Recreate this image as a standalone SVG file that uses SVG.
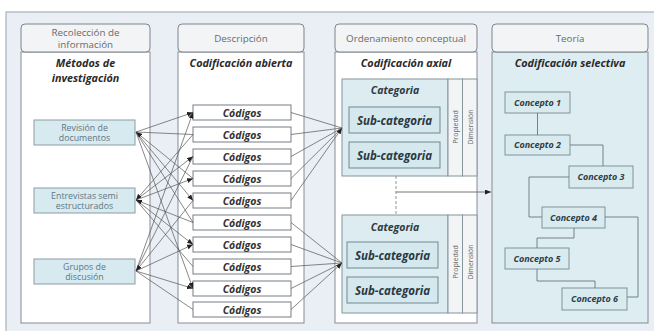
<svg xmlns="http://www.w3.org/2000/svg" width="654" height="331" viewBox="0 0 654 331">
<style>
.hdr{fill:#f3f4f6;stroke:#7d848c;stroke-width:1}
.hdrtxt{font-family:"Open Sans","Liberation Sans",sans-serif;font-size:9.8px;fill:#6a6a6a;text-anchor:middle}
.body{fill:#ffffff;stroke:#868c94;stroke-width:1}
.title{font-family:"Open Sans","Liberation Sans",sans-serif;font-size:10.8px;font-weight:700;font-style:italic;fill:#2a2a2a;text-anchor:middle}
.mbox{fill:#d6eaf0;stroke:#8e9ca6;stroke-width:1}
.mtxt{font-family:"Open Sans","Liberation Sans",sans-serif;font-size:8.8px;fill:#5e7785;text-anchor:middle}
.cbox{fill:#ffffff;stroke:#777d84;stroke-width:1}
.ctxt{font-family:"Open Sans","Liberation Sans",sans-serif;font-size:10.5px;font-weight:700;font-style:italic;fill:#333;text-anchor:middle}
.cat{fill:#dcecf0;stroke:#86949c;stroke-width:1}
.strip{fill:#f2f4f6;stroke:#86949c;stroke-width:1}
.cattxt{font-family:"Open Sans","Liberation Sans",sans-serif;font-size:10.5px;font-weight:700;font-style:italic;fill:#2d3a42;text-anchor:middle}
.sub{fill:#d4e8ee;stroke:#6f8892;stroke-width:1}
.subtxt{font-family:"Open Sans","Liberation Sans",sans-serif;font-size:11.5px;font-weight:700;font-style:italic;fill:#2a3840;text-anchor:middle}
.prop{font-family:"Open Sans","Liberation Sans",sans-serif;font-size:7px;fill:#6a6a6a;text-anchor:middle}
.con{fill:#d9ebef;stroke:#7f939c;stroke-width:1}
.contxt{font-family:"Open Sans","Liberation Sans",sans-serif;font-size:9px;font-weight:700;font-style:italic;fill:#2e3d46;text-anchor:middle}
.lk{fill:none;stroke:#555;stroke-width:0.7}
.lk2{fill:none;stroke:#666;stroke-width:0.8}
.tree{fill:none;stroke:#667780;stroke-width:0.9}
</style>
<defs>
<marker id="ah" viewBox="0 0 6 5" refX="6" refY="2.5" markerWidth="6" markerHeight="5" markerUnits="userSpaceOnUse" orient="auto">
<path d="M0,0 L6,2.5 L0,5 z" fill="#222"/>
</marker>
</defs>

<g id="panel">
<rect x="6" y="12" width="650" height="322" fill="#eaeff5" stroke="#9aa3ad" stroke-width="1"/>
</g>

<g id="col1">
<rect class="body" x="21" y="52" width="129" height="271"/>
<rect class="hdr" x="21" y="24" width="129" height="28" rx="4"/>
<text class="hdrtxt" x="85.5" y="35.5">Recolección de</text>
<text class="hdrtxt" x="85.5" y="47.5">información</text>
<text class="title" x="85.5" y="67">Métodos de</text>
<text class="title" x="85.5" y="82">investigación</text>
</g>
<g id="m-revision">
<rect class="mbox" x="34" y="120" width="101" height="25"/>
<text class="mtxt" x="84.5" y="130.5">Revisión de</text>
<text class="mtxt" x="84.5" y="141">documentos</text>
</g>
<g id="m-entrevistas">
<rect class="mbox" x="34" y="188" width="101" height="25"/>
<text class="mtxt" x="84.5" y="198.5">Entrevistas semi</text>
<text class="mtxt" x="84.5" y="209">estructurados</text>
</g>
<g id="m-grupos">
<rect class="mbox" x="34" y="259" width="101" height="25"/>
<text class="mtxt" x="84.5" y="269.5">Grupos de</text>
<text class="mtxt" x="84.5" y="280">discusión</text>
</g>

<g id="col2">
<rect class="body" x="178" y="52" width="126" height="271"/>
<rect class="hdr" x="178" y="24" width="126" height="28" rx="4"/>
<text class="hdrtxt" x="241" y="41.5">Descripción</text>
<text class="title" x="241" y="67">Codificación abierta</text>
</g>
<g id="codigos">
<g id="c1"><rect class="cbox" x="193" y="105" width="98" height="15"/><text class="ctxt" x="242" y="116.5">Códigos</text></g>
<g id="c2"><rect class="cbox" x="193" y="127" width="98" height="15"/><text class="ctxt" x="242" y="138.5">Códigos</text></g>
<g id="c3"><rect class="cbox" x="193" y="149" width="98" height="15"/><text class="ctxt" x="242" y="160.5">Códigos</text></g>
<g id="c4"><rect class="cbox" x="193" y="171" width="98" height="15"/><text class="ctxt" x="242" y="182.5">Códigos</text></g>
<g id="c5"><rect class="cbox" x="193" y="193" width="98" height="15"/><text class="ctxt" x="242" y="204.5">Códigos</text></g>
<g id="c6"><rect class="cbox" x="193" y="215" width="98" height="15"/><text class="ctxt" x="242" y="226.5">Códigos</text></g>
<g id="c7"><rect class="cbox" x="193" y="237" width="98" height="15"/><text class="ctxt" x="242" y="248.5">Códigos</text></g>
<g id="c8"><rect class="cbox" x="193" y="259" width="98" height="15"/><text class="ctxt" x="242" y="270.5">Códigos</text></g>
<g id="c9"><rect class="cbox" x="193" y="281" width="98" height="15"/><text class="ctxt" x="242" y="292.5">Códigos</text></g>
<g id="c10"><rect class="cbox" x="193" y="302" width="98" height="15"/><text class="ctxt" x="242" y="313.5">Códigos</text></g>
</g>

<g id="col3">
<rect class="body" x="335" y="52" width="142" height="271"/>
<rect class="hdr" x="335" y="24" width="142" height="28" rx="4"/>
<text class="hdrtxt" x="406" y="41.5">Ordenamiento conceptual</text>
<text class="title" x="406" y="67">Codificación axial</text>
</g>
<g id="cat1">
<rect class="cat" x="342" y="79" width="106" height="97"/>
<rect class="strip" x="448" y="79" width="14.5" height="97"/>
<rect class="strip" x="462.5" y="79" width="14.5" height="97"/>
<text class="cattxt" x="395" y="93.5">Categoria</text>
<rect class="sub" x="349" y="107" width="91" height="26"/>
<text class="subtxt" x="394.5" y="124.5">Sub-categoria</text>
<rect class="sub" x="349" y="142" width="91" height="26"/>
<text class="subtxt" x="394.5" y="159.5">Sub-categoria</text>
<text class="prop" transform="translate(458,127) rotate(-90)">Propiedad</text>
<text class="prop" transform="translate(472.5,127) rotate(-90)">Dimensión</text>
</g>
<g id="cat2">
<rect class="cat" x="342" y="215" width="106" height="98"/>
<rect class="strip" x="448" y="215" width="14.5" height="98"/>
<rect class="strip" x="462.5" y="215" width="14.5" height="98"/>
<text class="cattxt" x="395" y="230.5">Categoria</text>
<rect class="sub" x="347" y="242" width="91" height="26"/>
<text class="subtxt" x="392.5" y="259.5">Sub-categoria</text>
<rect class="sub" x="347" y="277" width="91" height="26"/>
<text class="subtxt" x="392.5" y="294.5">Sub-categoria</text>
<text class="prop" transform="translate(458,262) rotate(-90)">Propiedad</text>
<text class="prop" transform="translate(472.5,262) rotate(-90)">Dimensión</text>
</g>

<g id="col4">
<rect x="492" y="52" width="156" height="271" fill="#ddedf1" stroke="#868c94" stroke-width="1"/>
<rect class="hdr" x="492" y="24" width="156" height="28" rx="4"/>
<text class="hdrtxt" x="570" y="41.5">Teoría</text>
<text class="title" x="570" y="67">Codificación selectiva</text>
</g>
<g id="concepto1"><rect class="con" x="505" y="92" width="65" height="21"/><text class="contxt" x="537.5" y="105.5">Concepto 1</text></g>
<g id="concepto2"><rect class="con" x="505" y="135" width="65" height="20"/><text class="contxt" x="537.5" y="148">Concepto 2</text></g>
<g id="concepto3"><rect class="con" x="569" y="166" width="64" height="22"/><text class="contxt" x="601" y="180">Concepto 3</text></g>
<g id="concepto4"><rect class="con" x="542" y="207" width="63" height="21"/><text class="contxt" x="573.5" y="220.5">Concepto 4</text></g>
<g id="concepto5"><rect class="con" x="505" y="248" width="64" height="21"/><text class="contxt" x="537" y="261.5">Concepto 5</text></g>
<g id="concepto6"><rect class="con" x="562" y="288" width="65" height="22"/><text class="contxt" x="594.5" y="302">Concepto 6</text></g>

<g id="connectors">
<line class="lk" x1="136" y1="132" x2="193" y2="112.5" marker-end="url(#ah)"/>
<line class="lk" x1="136" y1="132" x2="193" y2="134.5"/>
<line class="lk" x1="136" y1="132" x2="193" y2="200.5" marker-end="url(#ah)"/>
<line class="lk" x1="136" y1="132" x2="193" y2="222.5"/>
<line class="lk" x1="136" y1="132" x2="193" y2="288.5" marker-end="url(#ah)"/>
<line class="lk" x1="193" y1="178.5" x2="136" y2="132" marker-end="url(#ah)"/>
<line class="lk" x1="136" y1="200" x2="193" y2="156.5" marker-end="url(#ah)"/>
<line class="lk" x1="136" y1="200" x2="193" y2="178.5" marker-end="url(#ah)"/>
<line class="lk" x1="136" y1="200" x2="193" y2="244.5" marker-end="url(#ah)"/>
<line class="lk" x1="136" y1="200" x2="193" y2="266.5"/>
<line class="lk" x1="193" y1="134.5" x2="136" y2="200" marker-end="url(#ah)"/>
<line class="lk" x1="193" y1="222.5" x2="136" y2="200" marker-end="url(#ah)"/>
<line class="lk" x1="136" y1="271" x2="193" y2="112.5" marker-end="url(#ah)"/>
<line class="lk" x1="136" y1="271" x2="193" y2="156.5"/>
<line class="lk" x1="136" y1="271" x2="193" y2="244.5" marker-end="url(#ah)"/>
<line class="lk" x1="136" y1="271" x2="193" y2="288.5" marker-end="url(#ah)"/>
<line class="lk" x1="136" y1="271" x2="193" y2="309.5"/>
<line class="lk" x1="193" y1="200.5" x2="136" y2="271" marker-end="url(#ah)"/>
<line class="lk2" x1="291" y1="112.5" x2="342" y2="128"/>
<line class="lk2" x1="291" y1="134.5" x2="342" y2="128"/>
<line class="lk2" x1="291" y1="156.5" x2="342" y2="128"/>
<line class="lk2" x1="291" y1="178.5" x2="342" y2="128"/>
<line class="lk2" x1="291" y1="200.5" x2="342" y2="128" marker-end="url(#ah)"/>
<line class="lk2" x1="291" y1="222.5" x2="342" y2="263"/>
<line class="lk2" x1="291" y1="244.5" x2="342" y2="263"/>
<line class="lk2" x1="291" y1="266.5" x2="342" y2="263"/>
<line class="lk2" x1="291" y1="288.5" x2="342" y2="263"/>
<line class="lk2" x1="291" y1="309.5" x2="342" y2="263" marker-end="url(#ah)"/>
<line x1="396" y1="176" x2="396" y2="215" stroke="#888" stroke-width="0.9" stroke-dasharray="3,2"/>
<line x1="396" y1="192" x2="491" y2="192" stroke="#666" stroke-width="0.9" marker-end="url(#ah)"/>
<path class="tree" d="M537.5,113 V135"/>
<path class="tree" d="M570,145 H603 V166"/>
<path class="tree" d="M569,177 H529 V217 H542"/>
<path class="tree" d="M574,228 V238 H537 V248"/>
<path class="tree" d="M537,269 V281 H595 V288"/>
<path class="tree" d="M605,217 H638 V297 H627"/>
</g>
</svg>
